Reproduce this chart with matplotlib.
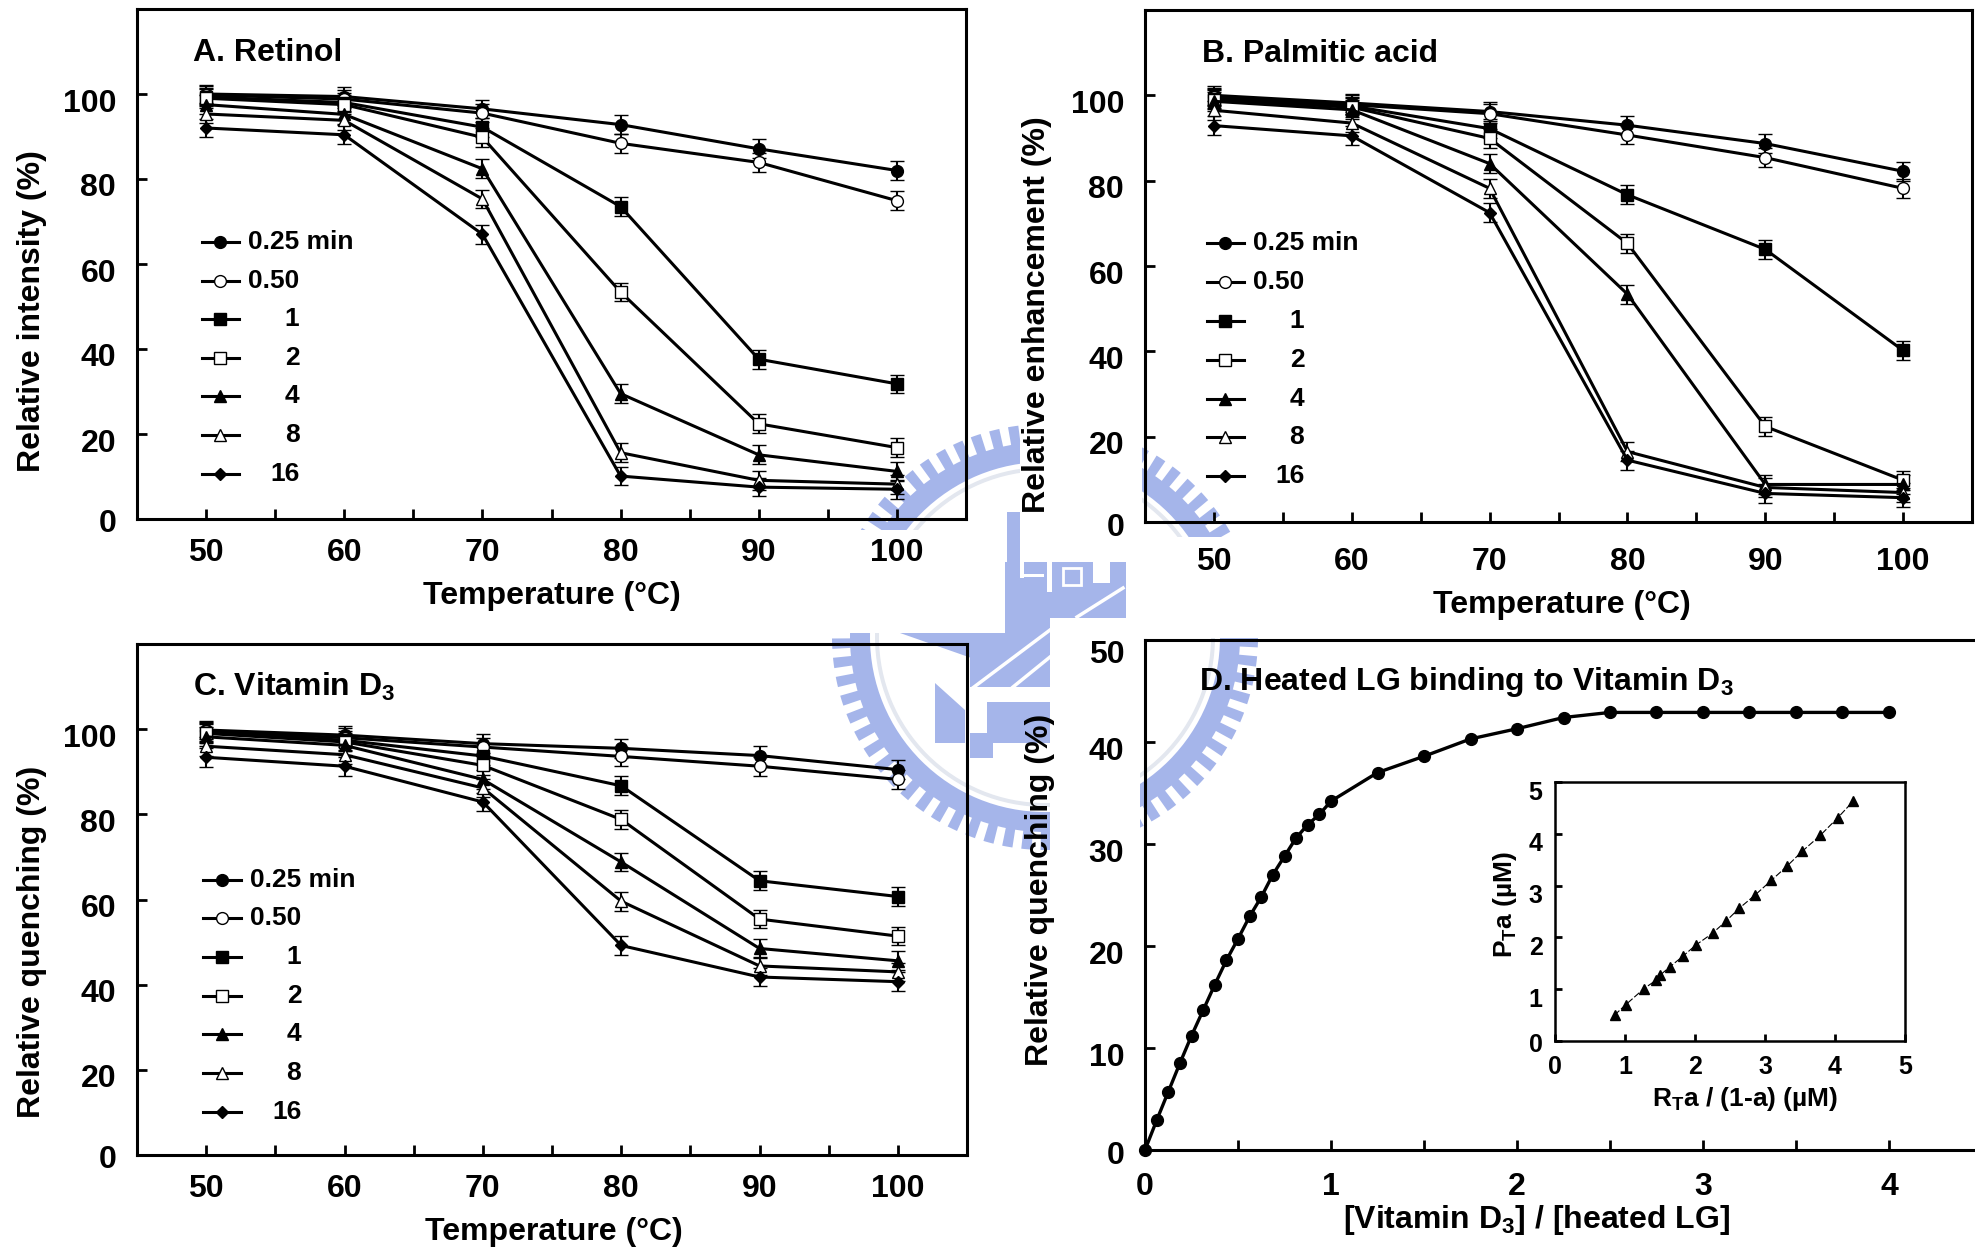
import matplotlib
matplotlib.use('Agg')
import matplotlib.pyplot as plt
import matplotlib.transforms as mtrans
import numpy as np
from matplotlib.patches import Wedge, Rectangle, Polygon

plt.rcParams['font.family'] = ['Liberation Sans', 'DejaVu Sans']
plt.rcParams['font.weight'] = 'bold'
plt.rcParams['axes.labelweight'] = 'bold'
plt.rcParams['mathtext.fontset'] = 'custom'
plt.rcParams['mathtext.bf'] = 'Liberation Sans:bold'
plt.rcParams['mathtext.rm'] = 'Liberation Sans:bold'
plt.rcParams['mathtext.it'] = 'Liberation Sans:bold'

W, H = 1975, 1250
BLUE = '#a5b5ea'

temps = [50, 60, 70, 80, 90, 100]
times = ['0.25 min', '0.50', '1', '2', '4', '8', '16']

retinol_025 = [100, 99.4, 96.5, 92.8, 87.1, 82]
retinol_050 = [99.8, 98.8, 95.5, 88.4, 83.9, 74.9]
retinol_1 = [99.3, 98, 92.2, 73.5, 37.6, 31.8]
retinol_2 = [99, 97.5, 89.8, 53.4, 22.4, 16.8]
retinol_4 = [97.5, 95.2, 82.4, 29.5, 15.1, 11.2]
retinol_8 = [95.3, 93.8, 75.3, 15.6, 9.1, 8.2]
retinol_16 = [92, 90.4, 67, 10.1, 7.5, 7]

palmitic_025 = [100, 98.2, 96.2, 93, 88.7, 82.2]
palmitic_050 = [99.6, 97.8, 95.7, 90.7, 85.4, 78.2]
palmitic_1 = [99.2, 97.5, 92.2, 76.7, 63.9, 40.2]
palmitic_2 = [99, 97.2, 89.9, 65.3, 22.4, 9.8]
palmitic_4 = [98.6, 96.6, 84, 53.4, 8.8, 8.8]
palmitic_8 = [96.5, 93.5, 78.2, 16.5, 8.1, 6.9]
palmitic_16 = [92.9, 90.5, 72.5, 14.5, 6.7, 5.7]

vitd_025 = [99.8, 98.6, 96.6, 95.5, 93.8, 90.5]
vitd_050 = [99.5, 98, 95.8, 93.6, 91.3, 88.2]
vitd_1 = [99.2, 97.4, 93.7, 86.7, 64.4, 60.7]
vitd_2 = [99, 97, 91.5, 78.8, 55.4, 51.4]
vitd_4 = [98.2, 96.2, 88.2, 68.8, 48.5, 45.6]
vitd_8 = [96, 94, 86.2, 59.6, 44.4, 43]
vitd_16 = [93.4, 91.3, 82.9, 49.2, 41.8, 40.7]

# same error size on all the temperature curves
err = 2.2

ratio = [0, 0.0625, 0.125, 0.1875, 0.25, 0.3125, 0.375, 0.4375, 0.5, 0.5625, 0.625, 0.6875,
         0.75, 0.8125, 0.875, 0.9375, 1, 1.25, 1.5, 1.75, 2, 2.25, 2.5, 2.75, 3, 3.25, 3.5, 3.75, 4]
quench = [0, 2.9, 5.7, 8.5, 11.2, 13.7, 16.2, 18.6, 20.7, 22.9, 24.8, 27,
          28.8, 30.6, 31.9, 32.9, 34.2, 37, 38.6, 40.3, 41.3, 42.4, 42.9, 42.9, 42.9, 42.9, 42.9, 42.9, 42.9]

inset_x = [0.85, 1.01, 1.27, 1.44, 1.50, 1.64, 1.83, 2.01, 2.25, 2.44, 2.63, 2.86, 3.09, 3.31, 3.53, 3.79, 4.04, 4.26]
inset_y = [0.5, 0.70, 1.01, 1.17, 1.27, 1.43, 1.64, 1.85, 2.08, 2.31, 2.56, 2.82, 3.10, 3.37, 3.66, 3.97, 4.31, 4.63]

markers = ['o', 'o', 's', 's', '^', '^', 'D']
faces = ['k', 'w', 'k', 'w', 'k', 'w', 'k']
msizes = [8.5, 8.5, 8, 8, 8.5, 8.5, 6.5]


def px_axes(fig, left, top, right, bottom, **kw):
    return fig.add_axes([left / W, 1 - bottom / H, (right - left) / W, (bottom - top) / H], **kw)


def draw_watermark(fig):
    bg = fig.add_axes([0, 0, 1, 1], zorder=-1)
    bg.set_xlim(0, W)
    bg.set_ylim(H, 0)
    bg.axis('off')
    c = (1045, 637)
    bg.add_patch(Wedge(c, 195, 0, 360, width=20, color=BLUE, lw=0))
    bg.add_patch(Wedge(c, 170, 0, 360, width=4, color='#e3e7ef', lw=0))
    for a in np.arange(0, 360, 5.2):
        bg.add_patch(Wedge(c, 213, a, a + 2.8, width=19, color=BLUE, lw=0))
    # white areas where the logo does not show through
    for x0, y0, x1, y1 in [(1020, 400, 1142, 562), (1126, 537, 1975, 638), (1050, 633, 1140, 900),
                           (800, 530, 1007, 633)]:
        bg.add_patch(Rectangle((x0, y0), x1 - x0, y1 - y0, color='w', lw=0))
    # centre of the logo
    for x, y, w, h in [(1007, 512, 13, 121), (1005, 562, 121, 56), (1005, 618, 45, 16),
                       (970, 633, 80, 54), (987, 702, 63, 41), (970, 733, 23, 25)]:
        bg.add_patch(Rectangle((x, y), w, h, color=BLUE, lw=0))
    bg.add_patch(Polygon([(900, 633), (1000, 633), (1000, 668)], color=BLUE, lw=0))
    bg.add_patch(Polygon([(935, 683), (965, 710), (965, 743), (935, 743)], color=BLUE, lw=0))
    for x, y, w, h in [(1047, 562, 5, 30), (1093, 562, 17, 21), (1020, 562, 4, 16), (1024, 574, 20, 3)]:
        bg.add_patch(Rectangle((x, y), w, h, color='w', lw=0))
    bg.add_patch(Rectangle((1063, 568), 18, 17, fill=False, ec='w', lw=2))
    for x0, y0, x1, y1 in [(1077, 617, 1123, 588), (970, 690, 1050, 630), (1013, 687, 1050, 657)]:
        bg.plot([x0, x1], [y0, y1], color='w', lw=2.5)


def style_axes(ax, size, length, xpad, ypad, drop=6, top_drop=None):
    for sp in ax.spines.values():
        sp.set_linewidth(2.2)
    ax.tick_params(which='both', direction='in', width=2, length=length, labelsize=size)
    ax.tick_params(axis='x', pad=xpad)
    ax.tick_params(axis='y', pad=ypad)
    # y numbers sit a bit under their ticks in the original, the 0 less so
    labels = ax.get_yticklabels()
    for i, lab in enumerate(labels):
        d = drop
        if i == 0:
            d = 2
        if i == len(labels) - 1 and top_drop is not None:
            d = top_drop
        off = mtrans.ScaledTranslation(0, -d / 100, fig.dpi_scale_trans)
        lab.set_transform(lab.get_transform() + off)


def temp_panel(fig, box, series, title, title_xy, ylabel, ylabel_xy, xlabel_xy, leg_x, leg_y, xpad):
    ax = px_axes(fig, *box)
    ax.set_facecolor('none')
    for s, m, f, ms in zip(series, markers, faces, msizes):
        ax.errorbar(temps, s, yerr=err, color='k', lw=2.2, elinewidth=1.5, capsize=5, capthick=1.5,
                    marker=m, mfc=f, mec='k', mew=1, ms=ms)
    ax.set_xlim(45, 105)
    ax.set_ylim(0, 120)
    ax.set_xticks(temps)
    ax.set_xticks(np.arange(55, 100, 10), minor=True)
    ax.set_yticks([0, 20, 40, 60, 80, 100])
    style_axes(ax, 23, 7.5, xpad, 15)
    ax.text(title_xy[0], title_xy[1], title, transform=ax.transAxes, fontsize=23, va='center')
    ax.set_xlabel('Temperature (°C)', fontsize=23, va='center')
    ax.xaxis.set_label_coords(xlabel_xy[0] / W, 1 - xlabel_xy[1] / H, transform=fig.transFigure)
    ax.set_ylabel(ylabel, fontsize=23, va='center')
    ax.yaxis.set_label_coords(ylabel_xy[0] / W, 1 - ylabel_xy[1] / H, transform=fig.transFigure)

    # hand placed key like in the figure
    for i, t in enumerate(times):
        y = leg_y - i * 0.0757
        ax.plot([leg_x, leg_x + 0.045], [y, y], transform=ax.transAxes, color='k', lw=2.2)
        ax.plot([leg_x + 0.0225], [y], transform=ax.transAxes, color='k', marker=markers[i],
                mfc=faces[i], mec='k', mew=1, ms=msizes[i])
        if i < 2:
            ax.text(leg_x + 0.056, y, t, transform=ax.transAxes, fontsize=19, va='center')
        else:
            ax.text(leg_x + 0.118, y, t, transform=ax.transAxes, fontsize=19, va='center', ha='right')
    return ax


fig = plt.figure(figsize=(W / 100, H / 100), dpi=100)
draw_watermark(fig)

temp_panel(fig, (137, 9, 966, 519),
           [retinol_025, retinol_050, retinol_1, retinol_2, retinol_4, retinol_8, retinol_16],
           'A. Retinol', (0.067, 0.913), 'Relative intensity (%)', (32, 311), (552, 596), 0.078, 0.543, 13.5)
temp_panel(fig, (1145, 10, 1972, 522),
           [palmitic_025, palmitic_050, palmitic_1, palmitic_2, palmitic_4, palmitic_8, palmitic_16],
           'B. Palmitic acid', (0.069, 0.914), 'Relative enhancement (%)', (1037, 315), (1562, 605), 0.0747, 0.544, 18)
temp_panel(fig, (137, 644, 967, 1155),
           [vitd_025, vitd_050, vitd_1, vitd_2, vitd_4, vitd_8, vitd_16],
           r'C. Vitamin D$\mathbf{_3}$', (0.067, 0.916), 'Relative quenching (%)', (32, 942), (554, 1232), 0.08, 0.539, 13.5)

# panel D runs past the right edge of the picture
axd = px_axes(fig, 1145, 640, 1982, 1150)
axd.set_facecolor('none')
axd.plot(ratio, quench, color='k', lw=2.4, marker='o', ms=8.5, clip_on=False)
axd.set_xlim(0, 4.5)
axd.set_ylim(0, 50)
axd.set_xticks(np.arange(0, 4.5, 1))
axd.set_xticks(np.arange(0.5, 4.5, 1), minor=True)
axd.set_yticks(np.arange(0, 60, 10))
style_axes(axd, 23, 7.5, 16, 15, top_drop=11)
axd.text(0.065, 0.918, r'D. Heated LG binding to Vitamin D$\mathbf{_3}$', transform=axd.transAxes, fontsize=23, va='center')
axd.set_xlabel(r'[Vitamin D$\mathbf{_3}$] / [heated LG]', fontsize=23, va='center')
axd.xaxis.set_label_coords(1537 / W, 1 - 1220 / H, transform=fig.transFigure)
axd.set_ylabel('Relative quenching (%)', fontsize=23, va='center')
axd.yaxis.set_label_coords(1040 / W, 1 - 890 / H, transform=fig.transFigure)

ins = px_axes(fig, 1555, 782, 1905, 1041, zorder=3)
ins.plot(inset_x, inset_y, color='k', lw=0.8, ls=(0, (6, 2)))
ins.plot(inset_x, inset_y, color='k', lw=0, marker='^', ms=7)
ins.set_xlim(0, 5)
ins.set_ylim(0, 5)
ins.set_xticks(range(6))
ins.set_yticks(range(6))
style_axes(ins, 18, 5, 10, 9, drop=8)
for sp in ins.spines.values():
    sp.set_linewidth(1.8)
ins.set_xlabel(r'R$\mathbf{_T}$a / (1-a) (µM)', fontsize=19, va='center')
ins.xaxis.set_label_coords(1745 / W, 1 - 1099 / H, transform=fig.transFigure)
ins.set_ylabel(r'P$\mathbf{_T}$a (µM)', fontsize=19, va='center')
ins.yaxis.set_label_coords(1505 / W, 1 - 904 / H, transform=fig.transFigure)

fig.savefig('out.png', dpi=100)
